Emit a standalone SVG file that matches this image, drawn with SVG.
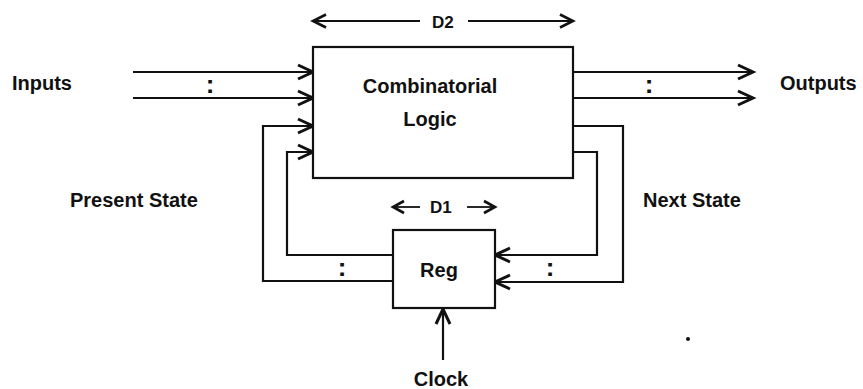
<svg xmlns="http://www.w3.org/2000/svg" width="863" height="389" viewBox="0 0 863 389">
<style>
.bg{fill:#fff}
.box{fill:#fff;stroke:#111;stroke-width:2.2}
.wire{fill:none;stroke:#111;stroke-width:2.2}
.arr{marker-end:url(#ah)}
.dim{fill:none;stroke:#111;stroke-width:1.8}
text{font-family:"Liberation Sans",Arial,Helvetica,sans-serif;font-weight:bold;fill:#111}
.lbl{font-size:20px}
.d{font-size:17px}
.col{font-size:26px}
.mid{text-anchor:middle}
</style>
<defs>
<marker id="ah" markerUnits="userSpaceOnUse" orient="auto" refX="0" refY="0" markerWidth="20" markerHeight="20" overflow="visible">
<path d="M-15,-7 L0,0 L-15,7" fill="none" stroke="#111" stroke-width="3"/>
</marker>
<marker id="dh" markerUnits="userSpaceOnUse" orient="auto-start-reverse" refX="0" refY="0" markerWidth="20" markerHeight="20" overflow="visible">
<path d="M-13,-6.5 L0,0 L-13,6.5" fill="none" stroke="#111" stroke-width="2.6"/>
</marker>
<marker id="sh" markerUnits="userSpaceOnUse" orient="auto" refX="0" refY="0" markerWidth="20" markerHeight="20" overflow="visible">
<path d="M-11,-6 L0,0 L-11,6" fill="none" stroke="#111" stroke-width="2.6"/>
</marker>
</defs>
<rect class="bg" x="0" y="0" width="863" height="389"/>

<g id="connectors">
<path class="wire arr" d="M133,72 H313"/>
<path class="wire arr" d="M133,98 H313"/>
<path class="wire arr" d="M573,72 H753"/>
<path class="wire arr" d="M573,98 H753"/>
<path class="wire arr" d="M393,281 H263 V126 H313"/>
<path class="wire arr" d="M393,255 H287 V152 H313"/>
<path class="wire arr" d="M573,126 H623 V282 H495"/>
<path class="wire arr" d="M573,152 H597 V255 H495"/>
<path class="wire arr" d="M443,360 V309"/>
</g>

<g id="comb">
<rect class="box" x="313" y="47" width="260" height="131"/>
<text class="lbl mid" x="430" y="93">Combinatorial</text>
<text class="lbl mid" x="430" y="126">Logic</text>
</g>

<g id="reg">
<rect class="box" x="393" y="230" width="102" height="78"/>
<text class="lbl mid" x="439" y="277">Reg</text>
</g>

<g id="d2">
<path class="dim" d="M420,21 H313" marker-end="url(#dh)"/>
<path class="dim" d="M468,21 H573" marker-end="url(#dh)"/>
<text class="d" x="432" y="28">D2</text>
</g>

<g id="d1">
<path class="dim" d="M420,207 H393" marker-end="url(#sh)"/>
<path class="dim" d="M467,207 H495" marker-end="url(#sh)"/>
<text class="d" x="430" y="213">D1</text>
</g>

<g id="labels">
<text class="lbl" x="12" y="90">Inputs</text>
<text class="lbl" x="780" y="90">Outputs</text>
<text class="lbl" x="70" y="207">Present State</text>
<text class="lbl" x="643" y="207">Next State</text>
<text class="lbl mid" x="441" y="386">Clock</text>
<text class="col mid" x="210" y="93">:</text>
<text class="col mid" x="649" y="93">:</text>
<text class="col mid" x="342" y="276">:</text>
<text class="col mid" x="550" y="276">:</text>
</g>
<circle cx="688" cy="339" r="2" fill="#111"/>
</svg>
